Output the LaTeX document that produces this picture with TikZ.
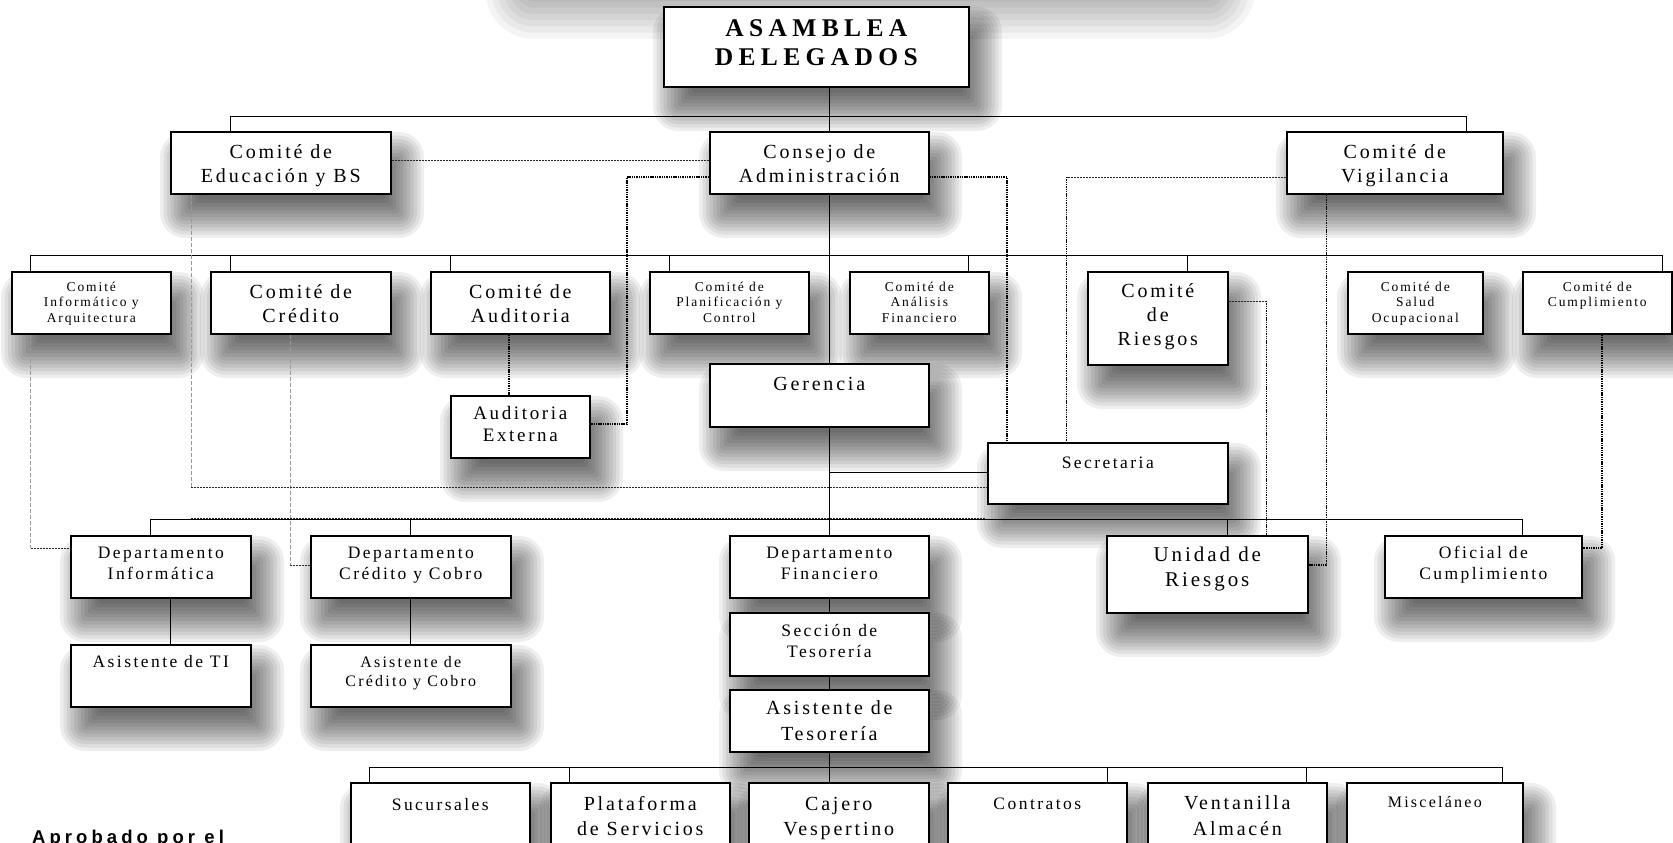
\documentclass[tikz,border=0pt]{standalone}
\usepackage{fontspec}
\newfontfamily\orgf[LetterSpace=14]{Liberation Serif}
\newfontfamily\orgbf[LetterSpace=21]{Liberation Serif}
\newfontfamily\aprobf[LetterSpace=22]{Liberation Sans}
\newcommand\fB{\orgbf\bfseries\fontsize{25.5}{29}\selectfont}
\newcommand\fL{\orgf\fontsize{20}{24}\selectfont}
\newcommand\fLw{\orgf\fontsize{20}{25.5}\selectfont}
\newcommand\fLt{\orgf\fontsize{20}{26}\selectfont}
\newcommand\fLL{\orgf\fontsize{21}{25}\selectfont}
\newcommand\fA{\orgf\fontsize{19}{22.5}\selectfont}
\newcommand\fM{\orgf\fontsize{17.5}{21.5}\selectfont}
\newcommand\fMs{\orgf\fontsize{16}{19.5}\selectfont}
\newcommand\fS{\orgf\fontsize{13.5}{15.8}\selectfont}
\pgfdeclarelayer{bgl}
\pgfdeclarelayer{shl}
\pgfsetlayers{bgl,shl,main}
\tikzset{
 obox/.style={draw=black, line width=1.6pt, fill=white, inner sep=0pt, anchor=north west},
 shadlayer/.style={black, opacity=0.065},
 conn/.style={line width=1pt, black},
 fdot/.style={line width=0.8pt, black!85, dash pattern=on 2pt off 1pt},
 bdot/.style={line width=1.4pt, black, dash pattern=on 1.4pt off 0.9pt},
 gdash/.style={line width=0.6pt, black!40, dash pattern=on 4pt off 2pt},
}
% soft shadow: x1,y1,x2,y2
\newcommand\softshadow[4]{%
 \foreach \i in {0,...,11}{%
  \pgfmathsetmacro\rr{22-42*\i/12}%
  \pgfmathsetmacro\rc{max(\rr,0)+3}%
  \fill[shadlayer,rounded corners=\rc pt] (#1+12-\rr,#2+23-\rr) rectangle (#3+12+\rr,#4+23+\rr);}}
% name, x1, y1, x2, y2, top pad, font, text
\newcommand\bx[8]{%
 \node[obox] (#1) at (#2,#3)
  {\parbox[t][\dimexpr#5pt-#3pt\relax][t]{\dimexpr#4pt-#2pt\relax}{\vspace*{#6pt}\centering#7\strut#8\par}};
 \begin{pgfonlayer}{shl}\softshadow{#2}{#3}{#4}{#5}\end{pgfonlayer}%
}
\begin{document}
\begin{tikzpicture}[x=1pt,y=-1pt]
\useasboundingbox (0,0) rectangle (1673,843);
\begin{pgfonlayer}{bgl}
\fill[white] (0,0) rectangle (1673,843);
\end{pgfonlayer}
\begin{pgfonlayer}{shl}
\foreach \i in {0,...,11}{%
  \pgfmathsetmacro\rr{45-75*\i/12}%
  \pgfmathsetmacro\rc{max(\rr,0)+4}%
  \fill[black,opacity=0.045,rounded corners=\rc pt] (530-\rr,-90-\rr) rectangle (1210+\rr,-6+\rr);}
\end{pgfonlayer}

\bx{asam}{663}{6}{968}{86}{9.7}{\fB}{ASAMBLEA\\DELEGADOS}
\bx{edu}{170}{131}{390}{193}{9.5}{\fL}{Comité de\\Educación y BS}
\bx{cons}{709}{131}{928}{193}{9.5}{\fL}{Consejo de\\Administración}
\bx{vig}{1286}{131}{1502}{193}{9.5}{\fL}{Comité de\\Vigilancia}

\bx{cinf}{11}{271}{170}{333}{8.2}{\fS}{Comité\\Informático y\\Arquitectura}
\bx{ccred}{210}{271}{390}{333}{9.5}{\fL}{Comité de\\Crédito}
\bx{caud}{430}{271}{609}{333}{9.5}{\fL}{Comité de\\Auditoria}
\bx{cplan}{649}{271}{808}{333}{8.2}{\fS}{Comité de\\Planificación y\\Control}
\bx{canal}{849}{271}{988}{333}{8.2}{\fS}{Comité de\\Análisis\\Financiero}
\bx{criesg}{1087}{271}{1227}{364}{9.2}{\fL}{Comité\\de\\Riesgos}
\bx{csal}{1347}{271}{1482}{333}{8.2}{\fS}{Comité de\\Salud\\Ocupacional}
\bx{ccum}{1522}{271}{1671}{333}{8.2}{\fS}{Comité de\\Cumplimiento}

\bx{ger}{709}{363}{928}{426}{10.2}{\fL}{Gerencia}
\bx{ext}{450}{395}{589}{457}{7.5}{\fA}{Auditoria\\Externa}
\bx{secr}{987}{442}{1227}{503}{11}{\fM}{Secretaria}

\bx{dinf}{70}{535}{250}{597}{7.6}{\fM}{Departamento\\Informática}
\bx{dcred}{310}{535}{510}{597}{7.6}{\fM}{Departamento\\Crédito y Cobro}
\bx{dfin}{729}{535}{928}{597}{7.6}{\fM}{Departamento\\Financiero}
\bx{unid}{1106}{535}{1307}{612}{8.2}{\fLL}{Unidad de\\Riesgos}
\bx{ofic}{1384}{535}{1581}{597}{7.6}{\fM}{Oficial de\\Cumplimiento}

\bx{ati}{70}{644}{250}{706}{7.3}{\fM}{Asistente de TI}
\bx{acred}{310}{644}{510}{706}{8.6}{\fMs}{Asistente de\\Crédito y Cobro}
\bx{stes}{729}{612}{928}{675}{8.6}{\fM}{Sección de\\Tesorería}
\bx{ates}{729}{689}{928}{751}{6.8}{\fLt}{Asistente de\\Tesorería}

\bx{suc}{350}{782}{529}{870}{12.2}{\fM}{Sucursales}
\bx{plat}{550}{782}{729}{870}{9.8}{\fLw}{Plataforma\\de Servicios}
\bx{caj}{748}{782}{928}{870}{9.8}{\fLw}{Cajero\\Vespertino}
\bx{cont}{947}{782}{1126}{870}{11.5}{\fM}{Contratos}
\bx{vent}{1147}{782}{1326}{870}{9}{\fLw}{Ventanilla\\Almacén}
\bx{misc}{1346}{782}{1522}{870}{10.7}{\fMs}{Misceláneo}

\node[anchor=base west, inner sep=0pt, font=\aprobf\bfseries\fontsize{18.5}{20}\selectfont] (aprob) at (32,843) {Aprobado por el};

% ---- solid trunk
\draw[conn] (asam.south -| dfin) -- (cons.north -| dfin);
\draw[conn] (cons.south -| dfin) -- (ger.north -| dfin);
\draw[conn] (ger.south -| dfin) -- (dfin.north);
\draw[conn] (dfin.south) -- (stes.north);
\draw[conn] (stes.south) -- (ates.north);
\draw[conn] (ates.south) -- (caj.north -| dfin);

% bar 1
\coordinate (b1l) at (230,116);
\coordinate (b1r) at (1466,116);
\draw[conn] (edu.north -| b1l) -- (b1l) -- (b1r) -- (vig.north -| b1r);

% bar 2
\coordinate (b2l) at (30.5,255);
\coordinate (b2r) at (1662,255);
\draw[conn] (cinf.north -| b2l) -- (b2l) -- (b2r) -- (ccum.north -| b2r);
\foreach \n/\x in {ccred/230, caud/450, cplan/669, canal/968, criesg/1187}{
  \coordinate (j\n) at (\x,255);
  \draw[conn] (j\n) -- (\n.north -| j\n);
}

% secretaria
\coordinate (js) at (829,472);
\draw[conn] (js) -- (secr.west |- js);

% bar 3
\coordinate (b3l) at (150,519.5);
\coordinate (b3r) at (1522.6,519.5);
\draw[conn] (dinf.north -| b3l) -- (b3l) -- (b3r) -- (ofic.north -| b3r);
\foreach \n/\x in {dcred/410, unid/1227}{
  \coordinate (j\n) at (\x,519.5);
  \draw[conn] (j\n) -- (\n.north -| j\n);
}
\coordinate (ja) at (170,600);
\draw[conn] (dinf.south -| ja) -- (ati.north -| ja);
\draw[conn] (dcred.south) -- (acred.north);

% bar 4
\coordinate (b4l) at (369.6,767);
\coordinate (b4r) at (1502,767);
\draw[conn] (suc.north -| b4l) -- (b4l) -- (b4r) -- (misc.north -| b4r);
\foreach \n/\x in {plat/569, cont/1107.5, vent/1306}{
  \coordinate (j\n) at (\x,767);
  \draw[conn] (j\n) -- (\n.north -| j\n);
}

% ---- dotted / dashed links
\draw[fdot] ([yshift=2pt]edu.east) -- ([yshift=2pt]cons.west);

\coordinate (k1) at (627,177);
\coordinate (k2) at (627,424);
\draw[bdot] (cons.west |- k1) -- (k1) -- (k2) -- (ext.east |- k2);

\coordinate (k3) at (1007,177);
\draw[bdot] (cons.east |- k3) -- (k3) -- (secr.north -| k3);

\coordinate (k4) at (1066.5,177);
\draw[fdot] (vig.west |- k4) -- (k4);
\draw[bdot] (k4) -- (secr.north -| k4);

\coordinate (k5) at (1326.5,565);
\draw[bdot] (vig.south -| k5) -- (k5) -- (unid.east |- k5);

\coordinate (k6) at (1266.5,301);
\draw[fdot] (criesg.east |- k6) -- (k6);
\draw[bdot] (k6) -- (unid.north -| k6);

\coordinate (k7) at (1602,548);
\draw[bdot] (ccum.south -| k7) -- (k7) -- (ofic.east |- k7);

\coordinate (k8) at (509,340);
\draw[bdot] (caud.south -| k8) -- (ext.north -| k8);

\coordinate (k9) at (30.5,548);
\draw[gdash] (cinf.south -| k9) -- (k9);
\draw[fdot] (k9) -- (dinf.west |- k9);

\coordinate (k10) at (290,565);
\draw[gdash] (ccred.south -| k10) -- (k10);
\draw[fdot] (k10) -- (dcred.west |- k10);

\coordinate (k11) at (191,487);
\draw[gdash] (edu.south -| k11) -- (k11);
\draw[fdot] (k11) -- (secr.west |- k11);

\coordinate (k12) at (191,518);
\coordinate (k13) at (986,518);
\draw[fdot] (k12) -- (k13);
\end{tikzpicture}
\end{document}
